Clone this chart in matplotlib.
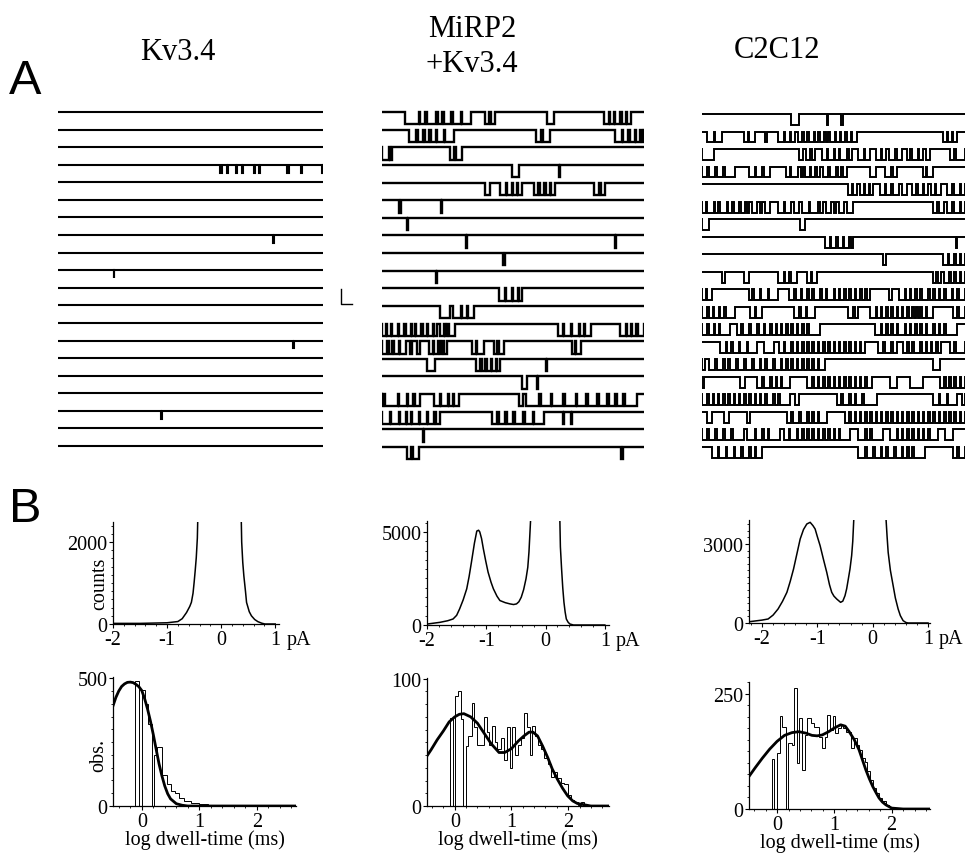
import matplotlib
matplotlib.use('Agg')
import matplotlib.pyplot as plt
from matplotlib.ticker import MultipleLocator

plt.rcParams['font.family'] = ['Liberation Serif', 'DejaVu Serif']
plt.rcParams['axes.unicode_minus'] = False

W, H = 965, 854

TITLES = ['Kv3.4', 'MiRP2\n+Kv3.4', 'C2C12']

# single-channel openings per sweep, (start, end) in % of sweep time
KV_EVENTS = [
    [], [], [],
    [(61.2, 61.8), (63.8, 64.3), (67.0, 67.5), (69.5, 69.9), (74.0, 74.5), (75.8, 76.3),
     (86.6, 87.1), (91.7, 92.2), (99.6, 100)],
    [], [], [], [(81.0, 81.4)], [], [(21.0, 21.3)],
    [], [], [], [(88.5, 89.0)], [], [], [], [(39.0, 39.4)], [], [],
]

MIRP_EVENTS = [
    [(8.9, 14.0), (14.6, 16.5), (17.2, 20.5), (21.2, 23.0), (23.5, 26.5), (27.2, 30.0), (30.6, 33.8),
     (39.5, 41.0), (41.6, 43.3), (63.0, 65.6), (84.7, 86.5), (87.0, 88.5), (89.0, 91.0), (91.5, 93.0),
     (93.5, 94.9)],
    [(10.2, 13.0), (13.6, 15.8), (16.4, 18.0), (18.6, 20.5), (21.0, 23.5), (24.0, 27.4), (58.6, 60.6),
     (61.4, 64.3), (89.0, 91.5), (92.0, 94.0), (94.6, 96.5), (97.0, 98.6), (99.2, 100)],
    [(0, 2.5), (3.0, 3.8), (26.0, 27.6), (28.2, 30.5)],
    [(49.7, 52.2), (67.5, 67.9)],
    [(39.5, 41.4), (45.2, 47.2), (47.8, 49.5), (50.0, 51.5), (52.0, 53.5), (58.0, 59.6), (60.2, 62.0),
     (62.6, 64.0), (64.6, 66.0), (81.0, 82.8), (83.4, 85.0)],
    [(6.4, 7.1), (22.6, 23.0)],
    [(9.4, 10.0)],
    [(32.0, 32.4), (89.0, 89.5)],
    [(46.3, 46.8)],
    [(20.5, 21.0)],
    [(44.6, 47.0), (47.5, 49.5), (50.0, 51.8), (52.3, 53.5)],
    [(22.3, 26.0), (27.0, 30.0), (30.5, 32.5), (33.0, 35.0)],
    [(0, 1.5), (2.0, 3.5), (4.0, 6.0), (6.6, 8.5), (9.0, 11.0), (11.6, 12.5), (13.0, 15.0), (15.6, 17.0),
     (17.6, 19.5), (20.0, 21.0), (22.0, 23.5), (24.0, 24.8), (25.5, 28.0), (67.0, 69.0), (69.6, 72.0),
     (72.5, 75.0), (75.6, 77.0), (77.5, 79.6), (91.0, 93.0), (93.6, 95.0), (95.6, 97.0), (97.6, 100)],
    [(0, 2.0), (2.6, 4.0), (4.6, 6.5), (7.0, 9.0), (10.8, 11.5), (13.5, 14.5), (17.8, 19.5), (20.0, 21.5),
     (22.0, 23.0), (23.5, 24.8), (34.4, 35.8), (36.3, 38.9), (42.7, 44.0), (44.6, 46.5), (72.6, 73.6),
     (74.2, 75.8)],
    [(17.2, 20.4), (35.7, 37.5), (38.0, 39.5), (40.0, 41.5), (42.0, 43.5), (44.0, 45.2), (62.5, 63.0)],
    [(53.5, 55.4), (59.0, 59.5)],
    [(0, 0.4), (1.3, 6.0), (6.6, 9.5), (10.0, 12.0), (12.6, 14.6), (19.7, 22.0), (22.6, 25.0), (25.6, 27.0),
     (27.5, 29.3), (52.2, 53.8), (55.0, 60.0), (60.6, 64.5), (65.0, 69.0), (70.0, 74.0), (74.6, 78.0),
     (78.6, 82.0), (83.0, 86.0), (86.6, 89.0), (89.6, 92.0), (92.6, 97.5)],
    [(0, 3.0), (3.6, 6.5), (7.0, 9.0), (9.5, 11.0), (11.6, 14.0), (14.6, 17.0), (17.6, 20.0), (20.6, 22.3),
     (42.0, 44.0), (44.6, 47.0), (47.6, 50.0), (50.6, 54.0), (54.6, 57.5), (58.0, 61.8), (69.0, 69.6),
     (72.0, 72.5)],
    [(15.5, 16.0)],
    [(9.6, 11.2), (11.8, 14.0), (91.3, 91.8)],
]

C2_EVENTS = [
    [(34.0, 36.7), (47.4, 48.0), (53.0, 53.6)],
    [(1.9, 4.5), (5.0, 7.6), (15.8, 17.5), (18.0, 20.0), (24.0, 24.7), (29.0, 31.0), (31.6, 33.5),
     (34.0, 35.5), (36.5, 38.0), (38.6, 40.0), (40.6, 42.5), (43.0, 44.2), (44.8, 46.5), (47.0, 48.0),
     (48.6, 50.5), (51.0, 52.5), (53.0, 54.5), (55.0, 56.5), (57.0, 58.9), (91.8, 93.0), (93.6, 95.0),
     (95.6, 96.8)],
    [(0, 4.4), (36.7, 38.5), (39.5, 41.0), (42.0, 43.0), (45.5, 47.5), (48.0, 50.0), (50.6, 52.0),
     (52.6, 55.0), (56.0, 57.0), (59.5, 61.5), (62.0, 64.0), (66.0, 68.0), (68.6, 70.0), (71.0, 73.5),
     (74.0, 76.0), (78.0, 79.0), (80.0, 82.0), (82.6, 84.0), (85.0, 86.7), (94.3, 96.0), (96.6, 100)],
    [(0, 2.0), (2.6, 5.0), (5.6, 8.0), (8.6, 12.7), (17.7, 20.0), (20.6, 23.0), (23.6, 26.0), (32.0, 33.5),
     (34.0, 36.5), (37.5, 38.5), (39.0, 41.0), (41.6, 43.0), (43.6, 45.0), (46.0, 48.0), (48.6, 51.0),
     (51.6, 53.0), (53.6, 55.0), (64.0, 66.0), (69.5, 72.0), (72.6, 74.0), (84.0, 85.0), (85.6, 88.0)],
    [(55.7, 57.0), (57.6, 59.0), (60.0, 61.5), (62.0, 63.5), (64.0, 65.0), (67.5, 69.5), (70.0, 72.0),
     (72.6, 75.0), (76.0, 78.0), (80.0, 81.5), (82.0, 84.0), (84.6, 86.0), (87.0, 88.5), (89.0, 91.0),
     (93.0, 95.0), (96.0, 98.0), (98.6, 100)],
    [(0, 1.5), (2.0, 4.5), (5.0, 6.0), (7.0, 9.5), (10.0, 11.5), (12.0, 14.0), (15.0, 16.5), (17.0, 18.0),
     (19.0, 21.0), (22.0, 23.0), (24.0, 26.0), (29.0, 31.0), (31.6, 34.0), (35.0, 37.0), (38.0, 40.5),
     (41.0, 44.0), (45.0, 46.0), (47.0, 49.0), (50.0, 51.0), (52.0, 54.0), (55.0, 57.6), (88.0, 89.5),
     (90.0, 92.0), (93.0, 95.0), (96.0, 98.0), (98.6, 100)],
    [(0, 2.5), (37.3, 39.2)],
    [(46.8, 48.5), (49.0, 51.0), (51.6, 53.5), (54.0, 56.0), (56.5, 57.6), (96.5, 97.0)],
    [(69.0, 70.0), (91.8, 93.5), (94.0, 96.0), (96.6, 98.0), (98.5, 100)],
    [(7.6, 8.9), (15.8, 17.7), (29.0, 31.0), (31.6, 33.0), (34.0, 36.0), (40.0, 41.5), (42.0, 43.7),
     (88.0, 89.0), (89.6, 91.0), (92.0, 94.0), (94.6, 96.0), (96.6, 98.0), (98.6, 100)],
    [(0, 1.5), (2.0, 3.8), (17.7, 19.0), (19.6, 22.0), (22.6, 25.0), (25.6, 29.0), (33.0, 35.0),
     (35.6, 37.5), (38.0, 40.0), (40.6, 42.0), (42.6, 45.0), (45.6, 47.0), (47.6, 50.0), (50.6, 52.0),
     (52.6, 54.0), (54.6, 56.0), (56.6, 58.0), (58.6, 60.0), (61.0, 62.0), (62.6, 64.0), (71.0, 72.3),
     (75.0, 77.0), (77.6, 79.0), (79.6, 81.0), (81.6, 83.0), (83.6, 86.0), (86.6, 88.0), (88.6, 90.0),
     (90.6, 92.0), (92.6, 95.0), (95.6, 97.0), (97.6, 100)],
    [(0, 2.0), (2.6, 4.0), (4.6, 6.5), (7.0, 8.5), (9.0, 12.7), (18.4, 20.0), (20.6, 22.8), (34.8, 37.0),
     (37.6, 39.5), (40.0, 43.0), (55.7, 57.5), (58.0, 59.5), (64.0, 66.0), (66.6, 68.0), (68.6, 70.0),
     (70.6, 72.0), (72.6, 74.0), (74.6, 76.0), (76.6, 78.0), (78.6, 80.0), (80.6, 81.5), (82.0, 83.0),
     (83.6, 85.0), (85.6, 87.8), (95.6, 97.0), (97.6, 100)],
    [(0, 2.0), (2.6, 4.5), (5.0, 6.5), (7.0, 10.8), (13.3, 15.0), (15.6, 18.0), (18.6, 21.0), (21.6, 23.5),
     (24.0, 26.0), (26.6, 28.0), (28.6, 30.0), (30.6, 32.0), (32.6, 34.0), (34.6, 36.0), (36.6, 38.0),
     (38.6, 40.0), (40.6, 44.9), (65.8, 68.0), (68.6, 70.0), (70.6, 72.0), (72.6, 74.0), (74.6, 77.0),
     (77.6, 79.0), (79.6, 81.0), (81.6, 83.0), (83.6, 85.0), (85.6, 88.0), (88.6, 90.0), (90.6, 92.0),
     (92.6, 96.8)],
    [(7.0, 9.0), (9.6, 11.0), (11.6, 14.0), (14.6, 17.0), (17.6, 20.9), (23.4, 27.2), (29.1, 31.0),
     (31.6, 34.0), (34.6, 36.0), (36.6, 38.0), (38.6, 40.0), (40.6, 42.0), (42.6, 44.0), (44.6, 46.0),
     (46.6, 48.0), (48.6, 50.0), (50.6, 52.0), (52.6, 54.0), (54.6, 56.0), (56.6, 58.0), (58.6, 60.0),
     (60.6, 62.0), (67.1, 69.0), (69.6, 72.0), (72.6, 74.0), (76.6, 78.0), (78.6, 80.0), (80.6, 83.0),
     (83.6, 85.0), (85.6, 87.0), (87.6, 89.0), (89.6, 90.9), (94.3, 96.0), (96.6, 100)],
    [(0, 1.3), (2.5, 5.0), (5.6, 8.0), (8.6, 10.0), (10.6, 13.0), (13.6, 16.0), (16.6, 19.0), (19.6, 22.0),
     (22.6, 24.0), (24.6, 27.0), (27.6, 30.0), (30.6, 32.0), (32.6, 34.0), (34.6, 36.0), (36.6, 38.0),
     (38.6, 40.0), (40.6, 42.0), (42.6, 44.0), (44.6, 46.7), (88.0, 90.5)],
    [(0, 0.6), (14.6, 16.5), (20.9, 23.0), (23.6, 26.0), (26.6, 28.0), (28.6, 30.0), (30.6, 33.5),
     (39.9, 42.0), (42.6, 44.0), (44.6, 46.0), (46.6, 48.0), (48.6, 50.0), (50.6, 52.0), (52.6, 54.0),
     (54.6, 56.0), (56.6, 58.0), (58.6, 60.0), (60.6, 62.0), (62.6, 64.6), (71.5, 74.0), (79.1, 84.2),
     (90.5, 92.0), (92.6, 94.0), (94.6, 96.0), (96.6, 98.0), (98.6, 100)],
    [(0, 2.0), (2.6, 4.0), (4.6, 6.0), (6.6, 8.0), (8.6, 10.0), (10.6, 12.0), (12.6, 14.0), (14.6, 16.0),
     (16.6, 18.0), (18.6, 20.0), (20.6, 22.0), (22.6, 24.0), (24.6, 27.0), (27.6, 29.0), (29.6, 33.5),
     (35.4, 36.7), (51.3, 53.0), (53.6, 56.0), (56.6, 58.0), (58.6, 61.0), (61.6, 66.5), (88.0, 90.0),
     (90.6, 93.0), (93.6, 96.8), (98.7, 100)],
    [(2.0, 3.8), (8.2, 10.1), (17.2, 18.4), (32.3, 34.0), (34.6, 37.0), (37.6, 40.0), (40.6, 42.0),
     (42.6, 44.0), (44.6, 47.5), (54.4, 56.0), (56.6, 58.0), (58.6, 60.0), (60.6, 62.0), (62.6, 64.0),
     (64.6, 66.0), (66.6, 68.0), (68.6, 70.0), (70.6, 72.0), (72.6, 74.0), (74.6, 76.0), (76.6, 78.0),
     (78.6, 80.0), (80.6, 82.0), (82.6, 84.0), (84.6, 86.0), (86.6, 88.0), (88.6, 90.0), (90.6, 92.0),
     (92.6, 94.0), (94.6, 96.0), (96.6, 98.0), (98.6, 100)],
    [(0, 2.0), (2.6, 5.0), (5.6, 8.0), (8.6, 11.0), (11.6, 15.8), (17.1, 20.0), (20.6, 23.0), (23.6, 25.0),
     (25.6, 29.8), (31.0, 33.0), (33.6, 36.0), (36.6, 38.0), (38.6, 40.0), (40.6, 42.0), (42.6, 44.0),
     (44.6, 46.0), (46.6, 48.0), (48.6, 50.0), (50.6, 52.0), (52.6, 56.3), (59.5, 62.0), (62.6, 64.0),
     (64.6, 69.0), (71.5, 74.0), (74.6, 76.0), (76.6, 78.0), (78.6, 80.0), (80.6, 82.0), (82.6, 84.0),
     (84.6, 86.0), (86.6, 89.9), (92.4, 95.6)],
    [(3.8, 6.0), (6.6, 9.0), (9.6, 12.0), (12.6, 15.0), (15.6, 18.0), (18.6, 20.0), (20.6, 22.8),
     (59.5, 62.0), (62.6, 65.0), (65.6, 68.0), (68.6, 70.0), (70.6, 73.0), (73.6, 76.0), (76.6, 78.0),
     (78.6, 80.0), (80.6, 84.8), (95.6, 97.0), (97.6, 100)],
]

# all-points amplitude histograms (pA, counts), left and right flank of the closed peak
KV_AMP_L_X = [-2.0, -1.5, -1.0, -0.8, -0.72, -0.64, -0.58, -0.55, -0.52, -0.5, -0.48, -0.46, -0.44, -0.43]
KV_AMP_L_Y = [15, 15, 30, 60, 130, 280, 430, 530, 750, 1010, 1300, 1620, 2100, 2700]
KV_AMP_R_X = [0.37, 0.38, 0.40, 0.42, 0.45, 0.47, 0.52, 0.56, 0.62, 0.68, 0.75, 0.81, 1.0]
KV_AMP_R_Y = [2700, 2000, 1500, 1175, 800, 526, 300, 200, 110, 57, 20, 0, 0]

MI_AMP_L_X = [-2.0, -1.78, -1.65, -1.56, -1.5, -1.45, -1.39, -1.33, -1.29, -1.25, -1.2, -1.16, -1.13,
              -1.11, -1.08, -1.05, -1.01, -0.97, -0.92, -0.88, -0.82, -0.77, -0.68, -0.6, -0.54, -0.49,
              -0.45, -0.41, -0.37, -0.33, -0.3, -0.28, -0.25]
MI_AMP_L_Y = [50, 144, 230, 324, 520, 864, 1350, 1944, 2600, 3384, 4400, 5050, 5094, 5004, 4650, 4104,
              3450, 2844, 2300, 1944, 1550, 1314, 1200, 1134, 1100, 1134, 1250, 1494, 1900, 2484, 3100,
              3924, 5800]
MI_AMP_R_X = [0.24, 0.25, 0.27, 0.29, 0.31, 0.33, 0.35, 0.38, 0.41, 0.47, 1.0]
MI_AMP_R_Y = [5800, 4200, 3024, 2000, 1224, 700, 324, 150, 54, 0, 0]

C2_AMP_L_X = [-2.22, -2.0, -1.89, -1.8, -1.71, -1.63, -1.55, -1.49, -1.43, -1.37, -1.31, -1.25, -1.19,
              -1.13, -1.08, -1.04, -1.0, -0.95, -0.89, -0.83, -0.78, -0.74, -0.7, -0.65, -0.58, -0.54,
              -0.5, -0.47, -0.44, -0.41, -0.38, -0.36, -0.34]
C2_AMP_L_Y = [51, 110, 152, 300, 532, 820, 1165, 1580, 2051, 2620, 3190, 3550, 3760, 3823, 3700, 3570,
              3280, 2937, 2420, 1924, 1450, 1165, 1020, 911, 785, 830, 1038, 1300, 1671, 2050, 2557,
              3100, 4000]
C2_AMP_R_X = [0.24, 0.26, 0.28, 0.32, 0.37, 0.41, 0.46, 0.5, 0.55, 0.6, 0.64, 1.0]
C2_AMP_R_Y = [4000, 3300, 2684, 2000, 1418, 950, 532, 280, 89, 20, 0, 0]

# dwell-time histograms (log ms, observations) and fitted curves
KV_DW_EDGES = [-0.12, -0.04, 0.0, 0.06, 0.11, 0.17, 0.21, 0.27, 0.35, 0.43, 0.50, 0.57, 0.65, 0.73,
               0.85, 1.0, 1.15, 1.3]
KV_DW_OBS = [490, 0, 455, 400, 320, 0, 200, 230, 120, 85, 60, 52, 33, 20, 13, 7, 2]
KV_FIT_X = [-0.5, -0.45, -0.4, -0.35, -0.3, -0.25, -0.2, -0.15, -0.1, -0.05, 0.0, 0.05, 0.1, 0.15, 0.2,
            0.25, 0.3, 0.35, 0.4, 0.45, 0.5, 0.6, 0.7, 0.8, 1.0, 2.7]
KV_FIT_Y = [392, 425, 450, 468, 478, 484, 485, 483, 476, 467, 452, 420, 380, 333, 280, 222, 165, 118,
            78, 48, 28, 9, 3, 0, 0, 0]

MI_DW_EDGES = [-0.09, -0.04, 0.0, 0.05, 0.11, 0.15, 0.19, 0.24, 0.30, 0.34, 0.39, 0.43, 0.52, 0.57,
               0.61, 0.66, 0.71, 0.75, 0.81, 0.87, 0.92, 0.97, 1.01, 1.06, 1.11, 1.17, 1.22, 1.27, 1.32,
               1.37, 1.41, 1.46, 1.52, 1.58, 1.64, 1.69, 1.75, 1.81, 1.87, 1.93, 1.99, 2.05, 2.11, 2.17,
               2.22, 2.28, 2.34]
MI_DW_OBS = [69, 0, 86, 90, 68, 0, 47, 55, 81, 62, 48, 48, 70, 58, 48, 63, 50, 45, 53, 36, 62, 30, 62,
             40, 48, 53, 73, 62, 40, 63, 55, 48, 45, 38, 33, 23, 27, 22, 18, 17, 9, 5, 3, 1, 3, 1]
MI_FIT_X = [-0.54, -0.42, -0.31, -0.2, -0.1, 0.0, 0.08, 0.16, 0.28, 0.4, 0.52, 0.64, 0.72, 0.78, 0.88,
            1.0, 1.12, 1.22, 1.31, 1.38, 1.46, 1.55, 1.64, 1.72, 1.81, 1.9, 1.99, 2.08, 2.16, 2.4, 2.8]
MI_FIT_Y = [36, 44, 52, 59, 66, 70, 72, 72.5, 70, 65, 57, 49, 45, 42, 42, 45, 51, 55, 58, 58, 55, 47, 38,
            29, 21, 14, 8, 4, 2, 0, 0]

C2_DW_EDGES = [-0.09, -0.05, 0.0, 0.05, 0.09, 0.15, 0.19, 0.26, 0.30, 0.35, 0.39, 0.44, 0.49, 0.53,
               0.59, 0.64, 0.68, 0.73, 0.78, 0.83, 0.87, 0.92, 0.97, 1.01, 1.06, 1.11, 1.15, 1.20, 1.25,
               1.29, 1.34, 1.39, 1.43, 1.48, 1.53, 1.57, 1.62, 1.67, 1.73, 1.78, 1.84, 1.90, 1.96, 2.05]
C2_DW_OBS = [108, 0, 121, 202, 179, 0, 143, 140, 262, 100, 197, 85, 161, 197, 186, 179, 179, 157, 132,
             157, 204, 172, 202, 165, 176, 183, 176, 168, 168, 132, 154, 139, 129, 110, 103, 82, 64, 46,
             35, 24, 17, 9, 4]
C2_FIT_X = [-0.5, -0.38, -0.26, -0.13, 0.0, 0.13, 0.26, 0.38, 0.5, 0.61, 0.7, 0.79, 0.9, 1.0, 1.11,
            1.19, 1.26, 1.35, 1.43, 1.49, 1.55, 1.61, 1.67, 1.73, 1.78, 1.84, 1.9, 2.0, 2.2, 2.7]
C2_FIT_Y = [69, 90, 110, 130, 147, 160, 166, 168, 165, 160, 159, 161, 168, 176, 183, 180, 168, 150,
            129, 107, 85, 66, 49, 35, 24, 15, 9, 2, 0, 0]


def box(x0, y0, x1, y1):
    return [x0 / W, 1 - y1 / H, (x1 - x0) / W, (y1 - y0) / H]


def draw_sweeps(fig, rect, events, amp, lw):
    ax = fig.add_axes(rect)
    ax.set_xlim(0, 100)
    ax.set_ylim(-20, 1)
    ax.axis('off')
    for i, ev in enumerate(events):
        xs, ys = [0], [-i]
        for s, e in ev:
            xs += [s, s, e, e]
            ys += [-i, -i - amp, -i - amp, -i]
        xs.append(100)
        ys.append(-i)
        ax.plot(xs, ys, color='k', lw=lw, solid_joinstyle='miter')
    return ax


def style_hist_ax(ax, yticks, ymajor_minor, xticks, xminor):
    for s in ['top', 'right']:
        ax.spines[s].set_visible(False)
    for s in ['left', 'bottom']:
        ax.spines[s].set_linewidth(0.9)
    ax.set_yticks(yticks)
    ax.set_xticks(xticks)
    ax.yaxis.set_minor_locator(MultipleLocator(ymajor_minor))
    ax.xaxis.set_minor_locator(MultipleLocator(xminor))
    ax.tick_params(which='major', direction='out', length=3, width=0.8, labelsize=14.5, pad=1)
    ax.tick_params(which='minor', direction='out', length=1.5, width=0.6)


def amp_panel(fig, rect, xlim, ylim, lx, ly, rx, ry, ytick, yminor):
    ax = fig.add_axes(rect)
    ax.plot(lx, ly, color='k', lw=1.1)
    ax.plot(rx, ry, color='k', lw=1.1)
    ax.set_xlim(*xlim)
    ax.set_ylim(*ylim)
    style_hist_ax(ax, [0, ytick], yminor, [-2, -1, 0, 1], 0.2)
    ax.set_xticklabels(['-2', '-1', '0', '1'])
    ax.annotate('pA', xy=(1, 0), xycoords=('data', 'axes fraction'), xytext=(8, -4),
                textcoords='offset points', ha='left', va='top', fontsize=14.5)
    return ax


def dwell_panel(fig, rect, xlim, ylim, edges, obs, fx, fy, ytick, yminor):
    ax = fig.add_axes(rect)
    ax.stairs(obs, edges, baseline=0, color='k', lw=0.7)
    ax.plot(fx, fy, color='k', lw=2.0)
    ax.set_xlim(*xlim)
    ax.set_ylim(*ylim)
    style_hist_ax(ax, [0, ytick], yminor, [0, 1, 2], 0.2)
    ax.set_xlabel('log dwell-time (ms)', fontsize=14.5, labelpad=-1)
    return ax


def main() -> None:
    fig = plt.figure(figsize=(W / 100, H / 100), dpi=100)

    over = fig.add_axes([0, 0, 1, 1])
    over.set_xlim(0, W)
    over.set_ylim(H, 0)
    over.axis('off')
    over.text(178, 52, TITLES[0], ha='center', va='center', fontsize=22)
    over.text(472, 47, TITLES[1], ha='center', va='center', fontsize=22, linespacing=1.3)
    over.text(777, 50, TITLES[2], ha='center', va='center', fontsize=22)
    over.text(25, 81, 'A', ha='center', va='center', fontsize=35, family='Liberation Sans')
    over.text(25, 510, 'B', ha='center', va='center', fontsize=35, family='Liberation Sans')
    # scale bar
    over.plot([341, 341, 352], [290, 305, 305], color='k', lw=1.0)

    draw_sweeps(fig, box(58, 95.4, 323, 464.6), KV_EVENTS, 0.45, 1.5)
    draw_sweeps(fig, box(382, 95.4, 644, 465.6), MIRP_EVENTS, 0.7, 1.7)
    draw_sweeps(fig, box(702, 97.5, 965, 465.5), C2_EVENTS, 0.62, 1.4)

    ax = amp_panel(fig, box(113, 523, 279, 625), (-2, 1.07), (0, 2490),
                   KV_AMP_L_X, KV_AMP_L_Y, KV_AMP_R_X, KV_AMP_R_Y, 2000, 200)
    ax.text(-0.08, 0.4, 'counts', transform=ax.transAxes, rotation=90, ha='center', va='center',
            fontsize=14.5)
    amp_panel(fig, box(427, 522, 609, 626), (-2, 1.07), (0, 5590),
              MI_AMP_L_X, MI_AMP_L_Y, MI_AMP_R_X, MI_AMP_R_Y, 5000, 500)
    amp_panel(fig, box(749, 521, 930, 624), (-2.235, 1.036), (0, 3911),
              C2_AMP_L_X, C2_AMP_L_Y, C2_AMP_R_X, C2_AMP_R_Y, 3000, 250)

    ax = dwell_panel(fig, box(113, 678, 296, 807), (-0.5, 2.68), (0, 505),
                     KV_DW_EDGES, KV_DW_OBS, KV_FIT_X, KV_FIT_Y, 500, 50)
    ax.text(-0.08, 0.4, 'obs.', transform=ax.transAxes, rotation=90, ha='center', va='center',
            fontsize=14.5)
    dwell_panel(fig, box(427, 679, 609, 807), (-0.49, 2.72), (0, 100.5),
                MI_DW_EDGES, MI_DW_OBS, MI_FIT_X, MI_FIT_Y, 100, 10)
    dwell_panel(fig, box(749, 683, 930, 810), (-0.49, 2.67), (0, 276),
                C2_DW_EDGES, C2_DW_OBS, C2_FIT_X, C2_FIT_Y, 250, 25)

    fig.savefig('out.png', dpi=100)


if __name__ == '__main__':
    main()
